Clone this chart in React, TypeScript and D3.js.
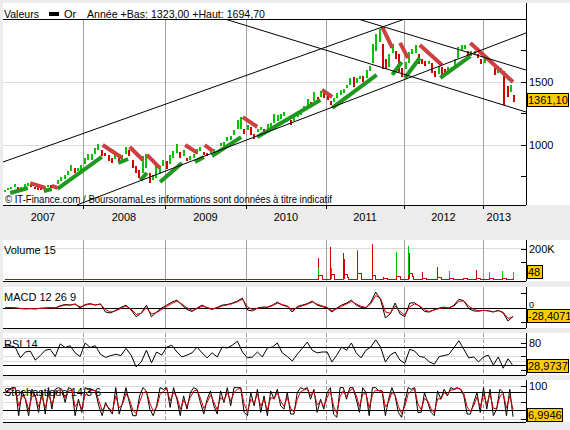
import * as d3 from 'd3';

const FONT = '"Liberation Sans", Arial, sans-serif';

// year boundaries of the time axis (Jan 1st of each year)
const YEARS = [2007, 2008, 2009, 2010, 2011, 2012, 2013];
const LAST_DATE = 2013.4;

// gold, semi-monthly bars from Jan 2007 (first half) to May 2013 (second half)
const PRICE_LOW = [
  625, 640, 650, 665, 640, 650, 670, 675, 665, 655, 645, 640, 655, 665, 660, 655, 690, 715, 730, 760, 790, 780, 790, 805,
  850, 880, 880, 930, 960, 915, 910, 870, 860, 890, 870, 880, 930, 910, 820, 780, 740, 780, 820, 700, 720, 740, 770, 835,
  810, 850, 900, 940, 900, 910, 870, 880, 900, 930, 950, 920, 910, 935, 940, 935, 990, 990, 1030, 1040, 1080, 1130, 1125, 1090,
  1120, 1080, 1045, 1100, 1120, 1090, 1130, 1135, 1175, 1190, 1210, 1230, 1190, 1160, 1190, 1220, 1240, 1270, 1310, 1325, 1350, 1330, 1380, 1370,
  1360, 1320, 1340, 1375, 1400, 1410, 1450, 1480, 1460, 1490, 1520, 1500, 1530, 1590, 1650, 1750, 1820, 1600, 1600, 1620, 1730, 1680, 1580, 1540,
  1600, 1650, 1720, 1730, 1640, 1640, 1630, 1640, 1570, 1540, 1560, 1550, 1560, 1570, 1590, 1610, 1690, 1755, 1765, 1700, 1710, 1725, 1690, 1640,
  1650, 1680, 1640, 1555, 1570, 1595, 1320, 1380, 1420, 1340
];
const PRICE_HIGH = [
  640, 660, 670, 690, 670, 670, 690, 695, 690, 670, 665, 660, 670, 685, 680, 675, 720, 745, 760, 790, 845, 820, 815, 840,
  895, 930, 930, 975, 1010, 960, 940, 920, 895, 930, 900, 920, 985, 960, 880, 835, 800, 910, 930, 780, 760, 830, 830, 880,
  870, 920, 950, 1005, 945, 960, 900, 915, 930, 965, 985, 945, 935, 960, 965, 955, 1015, 1020, 1060, 1070, 1120, 1195, 1225, 1130,
  1160, 1140, 1090, 1125, 1140, 1125, 1165, 1175, 1245, 1240, 1250, 1265, 1215, 1200, 1220, 1245, 1275, 1310, 1365, 1345, 1420, 1380, 1430, 1410,
  1390, 1350, 1375, 1415, 1440, 1445, 1475, 1535, 1540, 1530, 1545, 1550, 1595, 1630, 1800, 1880, 1920, 1800, 1680, 1720, 1800, 1750, 1720, 1610,
  1660, 1740, 1760, 1790, 1720, 1680, 1670, 1665, 1650, 1590, 1630, 1620, 1600, 1620, 1620, 1680, 1775, 1790, 1795, 1750, 1750, 1750, 1720, 1680,
  1690, 1695, 1680, 1610, 1615, 1615, 1585, 1470, 1480, 1400
];
const LAST_PRICE = 1361.1;

// stop-and-reverse trail segments: [date0, value0, date1, value1]
const SAR_UP = [
  [2007.09, 619, 2007.31, 659], [2007.51, 635, 2007.61, 651], [2007.68, 651, 2008.23, 905],
  [2008.43, 857, 2008.55, 889], [2008.70, 722, 2008.78, 778], [2008.94, 706, 2009.21, 857],
  [2009.37, 865, 2009.48, 905], [2009.58, 913, 2009.94, 1063], [2010.14, 1063, 2010.93, 1357],
  [2011.08, 1294, 2011.65, 1556], [2011.85, 1556, 2011.97, 1659], [2012.01, 1532, 2012.20, 1690],
  [2012.46, 1532, 2012.84, 1706]
];
const SAR_DOWN = [
  [2007.34, 698, 2007.53, 659], [2007.61, 675, 2007.68, 659], [2008.24, 1000, 2008.48, 897],
  [2008.57, 984, 2008.73, 881], [2008.78, 921, 2008.94, 817], [2009.25, 1000, 2009.40, 937],
  [2009.49, 1000, 2009.59, 952], [2009.96, 1222, 2010.14, 1143], [2010.95, 1437, 2011.08, 1381],
  [2011.72, 1937, 2011.85, 1770], [2011.95, 1810, 2012.05, 1690], [2012.20, 1794, 2012.48, 1635],
  [2012.84, 1810, 2013.38, 1500]
];

// drawn trend lines: [date0, value0, date1, value1]
const TRENDS = [
  [2007.0, 865, 2012.01, 2000],
  [2007.925, 524, 2013.544, 1889],
  [2009.74, 2000, 2013.544, 1262],
  [2011.41, 2000, 2013.544, 1595]
];

// volume (thousands)
const VOL_DATE = [2010.90, 2010.905, 2011.06, 2011.065, 2011.23, 2011.235, 2011.40, 2011.405, 2011.59, 2011.74, 2011.91,
  2012.06, 2012.065, 2012.24, 2012.42, 2012.58, 2012.75, 2012.92, 2013.08, 2013.25, 2013.38];
const VOL_VALUE = [140, 73, 213, 73, 173, 133, 193, 180, 233, 13, 180, 220, 173, 47, 80, 53, 7, 60, 47, 53, 48];
const VOL_UP = [false, true, false, true, false, false, true, false, false, false, true, true, false, false, false, true, false, false, true, true, true];

// indicators, evenly spaced over the period
const IND_START = 2007.03;
const IND_END = 2013.38;
const MACD = [
  2, 1, 0, -2, -3, -2, -3, -1, 0, 1, 0, 8, 12, 10, 14, 0, 12, 15, 10, 14,
  -14, -17, -8, 2, 10, -7, -30, -17, 10, -30, -14, 0, 10, 20, 27, 10, -5, -12, 0, 10,
  0, -5, 2, 10, 12, 17, 24, 34, -7, -10, 0, 3, 3, 10, 20, 10, 5, -14, 5, 10,
  15, 24, 10, 5, 0, -14, 0, 10, 17, 27, 10, 2, 0, 20, 55, 30, -34, -20, 17, -20,
  -30, 17, 18, 5, -12, -14, -5, 0, 3, 0, 10, 30, 25, -2, -10, -11, -8, -10, -14, -8,
  -17, -45, -28.4071
];
const RSI = [
  73, 74, 70, 47, 60, 62, 42, 52, 64, 66, 50, 78, 70, 74, 58, 50, 80, 70, 74, 55,
  48, 52, 55, 52, 68, 53, 27, 38, 64, 36, 60, 53, 71, 75, 60, 49, 53, 58, 71, 58,
  47, 58, 49, 71, 69, 75, 84, 60, 47, 49, 60, 49, 69, 71, 80, 58, 50, 40, 55, 68,
  82, 64, 58, 60, 60, 38, 53, 71, 64, 80, 58, 47, 64, 71, 87, 71, 38, 53, 60, 42,
  35, 66, 62, 50, 48, 38, 33, 50, 52, 55, 70, 85, 66, 47, 49, 38, 49, 53, 31, 49,
  24, 45, 28.9737
];
const STOCH = [
  80, 90, 95, 95, 10, 85, 60, 10, 90, 70, 20, 85, 15, 95, 30, 90, 95, 90, 50, 95,
  90, 10, 60, 20, 95, 90, 90, 85, 40, 10, 50, 30, 15, 95, 15, 50, 95, 50, 10, 10,
  70, 95, 85, 30, 10, 40, 95, 90, 95, 35, 95, 60, 10, 70, 30, 80, 95, 90, 50, 15,
  60, 85, 40, 15, 85, 50, 95, 40, 95, 95, 95, 20, 10, 80, 40, 90, 20, 70, 10, 85,
  60, 90, 40,
  30, 80, 15, 15, 80, 95, 90, 95, 60, 90, 20, 60, 30, 80, 95, 15, 5, 95, 95, 60,
  95, 95, 60, 20, 95, 80, 10, 95, 95, 85, 85, 10, 60, 95, 70, 20, 5, 50, 95, 90,
  95, 20, 20, 80, 50, 20, 10, 85, 60, 90, 70, 95, 90, 95, 90, 70, 15, 15, 50, 80,
  20, 95, 30, 90, 10, 30, 90, 80, 10, 90, 6.9946
];

const GREEN = '#00c400';
const RED = '#d40000';
const SAR_GREEN = '#1f981f';
const SAR_RED = '#cc4040';
const GRID = '#a0a0a0';
const LIGHT = '#dcdcdc';
const BG = '#ececec';

const L = 3;
const R = 526;

function fmt(v: number, d: number) {
  return v.toFixed(d).replace('.', ',');
}

function ValueBox({ y, label, top, bottom }: { y: number; label: string; top: number; bottom: number }) {
  const w = Math.min(43, Math.max(15, label.length * 6 - 1));
  const h = 13;
  const by = Math.max(top, Math.min(bottom - h, y - h / 2));
  return (
    <g>
      <rect x={R + 1} y={by} width={w} height={h} fill="#ffcc00" stroke="#000" strokeWidth={1} />
      <text x={R + 2} y={by + 10.5} fontSize={11} fontFamily={FONT}>
        {label}
      </text>
    </g>
  );
}

export default function App() {
  const x = d3.scaleLinear().domain(YEARS).range([3, 83, 165, 246, 326, 404, 483]);
  const yP = d3.scaleLinear().domain([1000, 1500]).range([145, 82]);
  const yV = d3.scaleLinear().domain([0, 200]).range([279, 249]);
  const yM = d3.scaleLinear().domain([0, 50]).range([308, 293.5]);
  const yR = d3.scaleLinear().domain([20, 80]).range([370, 343]);
  const yS = d3.scaleLinear().domain([0, 100]).range([419, 386]);

  const barDate = (i: number) => 2007 + (i + 0.5) / 24;
  const indDate = (n: number) => d3.scaleLinear().domain([0, n - 1]).range([IND_START, IND_END]);

  const macdT = indDate(MACD.length);
  const rsiT = indDate(RSI.length);
  const stT = indDate(STOCH.length);

  const ema = (arr: number[], a: number) => {
    let prev = arr[0];
    return arr.map((v) => (prev = prev + a * (v - prev)));
  };
  const signal = ema(MACD, 0.7);
  const stochD = ema(STOCH, 0.65);

  const series = (t: (i: number) => number, y: d3.ScaleLinear<number, number>) =>
    d3.line<number>().x((_, i) => x(t(i))).y((d) => y(d));

  // volume moving average as a step path
  const win = 0.05;
  const breaks = Array.from(new Set([IND_START, ...VOL_DATE, ...VOL_DATE.map((t) => t + win), IND_END]))
    .filter((t) => t <= IND_END)
    .sort((a, b) => a - b);
  const maPts = breaks.map((t) => {
    const s = d3.sum(VOL_DATE.map((d, i) => (d <= t && t < d + win ? VOL_VALUE[i] : 0)));
    return [t, s / 10] as [number, number];
  });
  const maPath = d3
    .line<[number, number]>()
    .x((d) => x(d[0]))
    .y((d) => yV(d[1]))
    .curve(d3.curveStepAfter)(maPts);

  const gridYears = YEARS.slice(1);
  const labelCenters = YEARS.map((yr, i) => {
    const a = x(yr);
    const b = i < YEARS.length - 1 ? x(YEARS[i + 1]) : x(LAST_DATE);
    return { yr, cx: (a + b) / 2 };
  });

  const vGrid = (top: number, bottom: number, dashed = false) =>
    gridYears.map((yr) => (
      <line
        key={yr}
        x1={x(yr)}
        x2={x(yr)}
        y1={top}
        y2={bottom}
        stroke={GRID}
        strokeWidth={1}
        strokeDasharray={dashed ? '4,2' : undefined}
      />
    ));

  const hLine = (y: number, color = '#000') => <line x1={L} x2={R} y1={y} y2={y} stroke={color} strokeWidth={1} />;
  const tick = (y: number) => <line x1={R - 5} x2={R} y1={y} y2={y} stroke="#000" strokeWidth={1} />;
  const rLabel = (y: number, s: string) => (
    <text x={R + 3} y={y + 4} fontSize={11} fontFamily={FONT}>
      {s}
    </text>
  );

  return (
    <svg width={570} height={430} style={{ position: 'absolute', left: 0, top: 0 }} shapeRendering="crispEdges">
      <defs>
        <clipPath id="cMain"><rect x={L} y={19} width={R - L} height={186} /></clipPath>
        <clipPath id="cVol"><rect x={L} y={240} width={R - L} height={41} /></clipPath>
        <clipPath id="cMacd"><rect x={L} y={287} width={R - L} height={41} /></clipPath>
        <clipPath id="cRsi"><rect x={L} y={333} width={R - L} height={42} /></clipPath>
        <clipPath id="cSto"><rect x={L} y={380} width={R - L} height={42} /></clipPath>
      </defs>
      <rect x={0} y={0} width={570} height={430} fill={BG} />

      {/* main price panel */}
      <rect x={L} y={3} width={570 - L} height={202} fill="#fff" />
      <text x={4} y={18} fontSize={11} fontFamily={FONT} textLength={35} lengthAdjust="spacingAndGlyphs">Valeurs</text>
      <rect x={49} y={12} width={10} height={4} fill="#000" />
      <text x={64} y={18} fontSize={11} fontFamily={FONT}>Or</text>
      <text x={87} y={18} fontSize={11} fontFamily={FONT} textLength={178} lengthAdjust="spacingAndGlyphs">
        Année +Bas: 1323,00 +Haut: 1694,70
      </text>
      {hLine(yP(1000), LIGHT)}
      {hLine(yP(1500), LIGHT)}
      {vGrid(19, 205)}
      <g clipPath="url(#cMain)">
        {PRICE_HIGH.map((h, i) => {
          const lo = PRICE_LOW[i];
          const mid = (h + lo) / 2;
          const pm = i > 0 ? (PRICE_HIGH[i - 1] + PRICE_LOW[i - 1]) / 2 : mid;
          const y0 = yP(h);
          const y1 = yP(lo);
          return (
            <rect
              key={i}
              x={Math.round(x(barDate(i))) - 1}
              y={y0}
              width={2}
              height={Math.max(2, y1 - y0)}
              fill={mid >= pm ? GREEN : RED}
            />
          );
        })}
        {SAR_UP.map((s, i) => (
          <line key={'u' + i} x1={x(s[0])} y1={yP(s[1])} x2={x(s[2])} y2={yP(s[3])} stroke={SAR_GREEN} strokeWidth={4} shapeRendering="auto" />
        ))}
        {SAR_DOWN.map((s, i) => (
          <line key={'d' + i} x1={x(s[0])} y1={yP(s[1])} x2={x(s[2])} y2={yP(s[3])} stroke={SAR_RED} strokeWidth={4} shapeRendering="auto" />
        ))}
        {TRENDS.map((s, i) => (
          <line key={'t' + i} x1={x(s[0])} y1={yP(s[1])} x2={x(s[2])} y2={yP(s[3])} stroke="#000" strokeWidth={1} shapeRendering="auto" />
        ))}
      </g>
      <text x={5} y={203} fontSize={11} fontFamily={FONT} textLength={327} lengthAdjust="spacingAndGlyphs">
        © IT-Finance.com / BoursoramaLes informations sont données à titre indicatif
      </text>
      {hLine(19)}
      {hLine(205)}
      <line x1={R} x2={R} y1={3} y2={205} stroke="#000" />
      {[750, 1000, 1250, 1500, 1750].map((v) => <g key={v}>{tick(yP(v))}</g>)}
      {rLabel(yP(1500), '1500')}
      {rLabel(yP(1000), '1000')}
      <ValueBox y={yP(LAST_PRICE)} label={fmt(LAST_PRICE, 2)} top={20} bottom={205} />

      {/* time axis */}
      {gridYears.map((yr) => (
        <line key={yr} x1={x(yr)} x2={x(yr)} y1={205} y2={209} stroke="#000" />
      ))}
      {labelCenters.map((d) => (
        <text key={d.yr} x={d.cx} y={221} fontSize={11} fontFamily={FONT} textAnchor="middle">
          {d.yr}
        </text>
      ))}

      {/* volume */}
      <rect x={L} y={240} width={570 - L} height={41} fill="#fff" />
      {hLine(yV(200) - 1, LIGHT)}
      {vGrid(240, 281)}
      <g clipPath="url(#cVol)">
        {VOL_DATE.map((t, i) => (
          <line key={i} x1={x(t)} x2={x(t)} y1={yV(0)} y2={yV(VOL_VALUE[i])} stroke={VOL_UP[i] ? GREEN : RED} />
        ))}
        <path d={maPath ?? ''} fill="none" stroke={RED} strokeWidth={1} />
      </g>
      <text x={4} y={254} fontSize={11} fontFamily={FONT}>Volume 15</text>
      {hLine(281)}
      <line x1={R} x2={R} y1={240} y2={281} stroke="#000" />
      {tick(yV(200))}
      {tick(yV(100) - 2)}
      {rLabel(yV(200), '200K')}
      <ValueBox y={yV(VOL_VALUE[VOL_VALUE.length - 1])} label={String(VOL_VALUE[VOL_VALUE.length - 1])} top={241} bottom={280} />

      {/* MACD */}
      <rect x={L} y={287} width={570 - L} height={41} fill="#fff" />
      {vGrid(287, 328)}
      {hLine(yM(0))}
      <g clipPath="url(#cMacd)">
        <path d={series(macdT, yM)(MACD) ?? ''} fill="none" stroke="#000" strokeWidth={1} shapeRendering="auto" />
        <path d={series(macdT, yM)(signal) ?? ''} fill="none" stroke={RED} strokeWidth={1} shapeRendering="auto" />
      </g>
      <text x={4} y={301} fontSize={11} fontFamily={FONT}>MACD 12 26 9</text>
      {hLine(328)}
      <line x1={R} x2={R} y1={287} y2={328} stroke="#000" />
      {[-50, 0, 50].map((v) => <g key={v}>{tick(yM(v))}</g>)}
      <text x={R + 3} y={yM(0)} fontSize={9} fontFamily={FONT}>0</text>
      <ValueBox y={yM(MACD[MACD.length - 1])} label={fmt(MACD[MACD.length - 1], 4)} top={309} bottom={327} />

      {/* RSI */}
      <rect x={L} y={333} width={570 - L} height={42} fill="#fff" />
      {[90, 50, 40].map((v) => <g key={v}>{hLine(yR(v), LIGHT)}</g>)}
      {vGrid(333, 375, true)}
      {hLine(yR(70))}
      {hLine(yR(30))}
      <g clipPath="url(#cRsi)">
        <path d={series(rsiT, yR)(RSI) ?? ''} fill="none" stroke="#000" strokeWidth={1} shapeRendering="auto" />
      </g>
      <text x={4} y={348} fontSize={11} fontFamily={FONT}>RSI 14</text>
      {hLine(375)}
      <line x1={R} x2={R} y1={333} y2={375} stroke="#000" />
      {[80, 70, 50, 30, 20].map((v) => <g key={v}>{tick(yR(v))}</g>)}
      {rLabel(yR(80), '80')}
      <ValueBox y={yR(RSI[RSI.length - 1])} label={fmt(RSI[RSI.length - 1], 4)} top={334} bottom={374} />

      {/* stochastic */}
      <rect x={L} y={380} width={570 - L} height={42} fill="#fff" />
      {[100, 50, 0].map((v) => <g key={v}>{hLine(yS(v), LIGHT)}</g>)}
      {vGrid(380, 422, true)}
      {hLine(yS(80))}
      {hLine(yS(20) - 2)}
      <g clipPath="url(#cSto)">
        <path d={series(stT, yS)(STOCH) ?? ''} fill="none" stroke="#000" strokeWidth={1} shapeRendering="auto" />
        <path d={series(stT, yS)(stochD) ?? ''} fill="none" stroke={RED} strokeWidth={1} shapeRendering="auto" />
      </g>
      <text x={4} y={396} fontSize={11} fontFamily={FONT}>Stochastique 14 3 6</text>
      {hLine(422)}
      <line x1={R} x2={R} y1={380} y2={422} stroke="#000" />
      {[100, 50, 0].map((v) => <g key={v}>{tick(yS(v))}</g>)}
      {rLabel(yS(100), '100')}
      <ValueBox y={yS(STOCH[STOCH.length - 1])} label={fmt(STOCH[STOCH.length - 1], 4)} top={381} bottom={421} />
    </svg>
  );
}
